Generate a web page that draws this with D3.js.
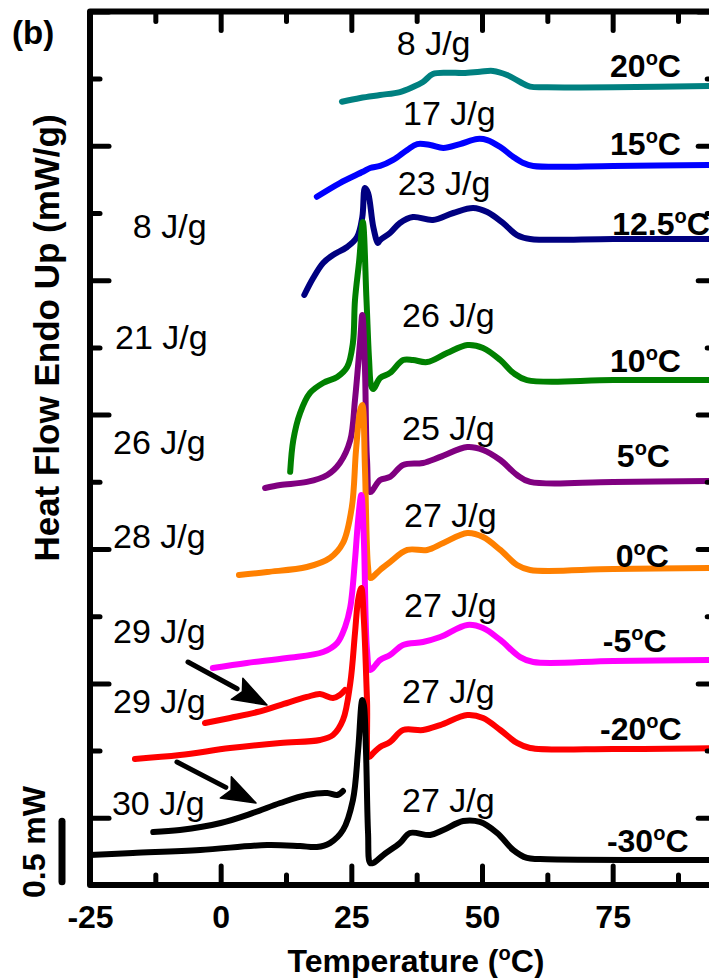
<!DOCTYPE html>
<html>
<head>
<meta charset="utf-8">
<script src="https://cdn.jsdelivr.net/npm/d3@7"></script>
<style>
  html, body { margin: 0; padding: 0; background: #fff; overflow: hidden; }
  svg { display: block; }
</style>
</head>
<body>
<svg id="chart" width="709" height="978"></svg>
<script>
// DSC heating scans after isothermal holds, stacked with vertical offsets.
// Each curve: [temperature (°C), heat flow (mW/g, offset)].
const curve20C = [[23.2,5.328],[26.7,5.356],[30.5,5.378],[34.3,5.40],[36.8,5.438],[38.7,5.475],[40.6,5.534],[43.3,5.544],[46.4,5.542],[49.6,5.551],[52.1,5.557],[54.8,5.527],[57.3,5.475],[59.2,5.440],[62.5,5.435],[75.1,5.435],[95,5.445]];
const curve15C = [[18.4,4.621],[22.8,4.723],[27.2,4.807],[28.6,4.835],[30.5,4.850],[33.0,4.895],[35.7,4.969],[37.6,5.013],[40.1,5.006],[42.6,4.984],[45.8,5.013],[49.1,5.051],[51.0,5.043],[53.5,4.991],[56.0,4.917],[57.9,4.872],[59.8,4.850],[75.1,4.850],[95,4.857]];
const curve12p5C = [[16.0,3.890],[17.7,4.016],[19.6,4.128],[21.5,4.188],[24.2,4.247],[26.1,4.321],[27.1,4.470],[27.6,4.686],[28.2,4.649],[29.2,4.396],[30.1,4.277],[30.5,4.299],[32.4,4.351],[34.3,4.426],[36.8,4.470],[40.6,4.448],[44.5,4.500],[48.3,4.537],[51.0,4.507],[54.0,4.426],[56.7,4.336],[59.2,4.307],[75.1,4.307],[95,4.307]];
const curve10C = [[13.3,2.575],[13.9,2.811],[15.2,3.012],[17.1,3.161],[19.6,3.235],[22.3,3.280],[24.2,3.354],[25.3,3.533],[25.7,3.853],[26.5,4.144],[27.2,4.433],[27.9,3.853],[28.4,3.406],[28.8,3.213],[29.2,3.190],[30.5,3.272],[32.4,3.310],[34.9,3.406],[36.8,3.406],[39.5,3.391],[43.3,3.458],[47.2,3.518],[50.2,3.496],[53.5,3.406],[56.0,3.310],[58.6,3.257],[75.1,3.257],[95,3.257]];
const curve5C = [[8.5,2.454],[11.4,2.476],[16.5,2.499],[20.4,2.551],[22.8,2.640],[24.8,2.811],[25.7,3.109],[26.7,3.555],[27.1,3.741],[27.6,3.354],[28.0,2.662],[28.6,2.424],[30.5,2.513],[32.4,2.536],[34.9,2.625],[38.7,2.640],[42.0,2.685],[47.2,2.759],[50.2,2.737],[53.5,2.662],[56.7,2.551],[59.2,2.499],[75.1,2.499],[95,2.506]];
const curve0C = [[3.5,1.807],[8.9,1.829],[16.5,1.866],[20.9,1.933],[23.4,2.045],[25.1,2.313],[25.9,2.737],[26.7,3.034],[27.1,3.071],[27.6,2.610],[28.2,1.866],[28.6,1.784],[30.5,1.844],[32.4,1.903],[35.7,1.993],[39.5,1.993],[42.6,2.045],[47.2,2.119],[50.2,2.089],[53.5,1.993],[56.7,1.881],[59.2,1.844],[75.1,1.851],[95,1.859]];
const curveM5C = [[-1.5,1.115],[5.0,1.152],[12.7,1.189],[19.6,1.234],[22.3,1.301],[23.8,1.420],[24.8,1.568],[25.7,1.918],[26.3,2.216],[26.9,2.402],[27.4,2.067],[28.0,1.249],[28.6,1.100],[30.5,1.174],[32.4,1.211],[34.9,1.286],[38.7,1.308],[42.0,1.345],[47.2,1.435],[50.2,1.412],[53.5,1.323],[57.3,1.196],[59.8,1.159],[75.1,1.167],[95,1.174]];
const curveM20C = [[-16.4,0.438],[-7.8,0.467],[1.8,0.519],[11.4,0.557],[19.0,0.579],[21.5,0.616],[23.4,0.728],[24.8,1.003],[25.7,1.375],[26.3,1.621],[26.9,1.710],[27.4,1.472],[28.0,0.876],[28.4,0.452],[29.2,0.482],[30.5,0.527],[32.4,0.564],[34.9,0.653],[38.7,0.653],[42.0,0.690],[47.2,0.765],[50.2,0.743],[53.5,0.653],[56.7,0.557],[59.2,0.519],[75.1,0.512],[95,0.519]];
const curveM20CPre = [[-3.0,0.705],[1.8,0.743],[7.0,0.787],[11.4,0.839],[16.5,0.899],[19.0,0.921],[21.5,0.891],[22.8,0.914],[23.8,0.951]];
const curveM30C = [[-25,-0.277],[-16.8,-0.262],[-3.9,-0.240],[8.9,-0.202],[15.2,-0.210],[18.4,-0.217],[20.9,-0.188],[23.4,-0.091],[25.3,0.132],[26.3,0.504],[27.1,0.876],[27.4,0.839],[27.8,0.504],[28.2,-0.113],[28.6,-0.336],[29.2,-0.336],[31.1,-0.277],[34.3,-0.188],[36.2,-0.113],[40.1,-0.128],[42.6,-0.091],[46.4,-0.024],[49.6,-0.031],[52.9,-0.113],[56.0,-0.240],[58.6,-0.299],[61.1,-0.307],[95,-0.314]];
const curveM30CPre = [[-12.9,-0.106],[-7.8,-0.091],[0,-0.039],[6.2,0.036],[11.4,0.110],[16.5,0.170],[20.4,0.185],[22.3,0.170],[23.4,0.199]];

// Hold temperatures and melting enthalpies
const holdTemps = ["20", "15", "12.5", "10", "5", "0", "-5", "-20", "-30"];
const enthalpyLabels = ["8 J/g", "17 J/g", "23 J/g", "8 J/g", "21 J/g", "26 J/g", "26 J/g", "25 J/g", "28 J/g", "27 J/g", "29 J/g", "27 J/g", "29 J/g", "27 J/g", "30 J/g", "27 J/g"];

// Axis ticks
const xMajorTicks = [-25, 0, 25, 50, 75];
const xTickLabels = ["-25", "0", "25", "50", "75"];
const xMinorTicks = [-12.5, 12.5, 37.5, 62.5, 87.5];
const yMajorTicks = [0, 1, 2, 3, 4, 5, 6];
const yMinorTicks = [0.5, 1.5, 2.5, 3.5, 4.5, 5.5];

// ---- layout ----
const svg = d3.select("#chart");
const x = d3.scaleLinear().domain([-25, 95]).range([90, 717.2]);
const y = d3.scaleLinear().domain([-0.5, 6]).range([885, 11.4]);
const FONT = "'Liberation Sans', Arial, Helvetica, sans-serif";

const seriesList = [
  { data: curve20C, color: "#008080" },
  { data: curve15C, color: "#0000ff" },
  { data: curve12p5C, color: "#000080" },
  { data: curve10C, color: "#008000" },
  { data: curve5C, color: "#800080" },
  { data: curve0C, color: "#ff8000" },
  { data: curveM5C, color: "#ff00ff" },
  { data: curveM20CPre, color: "#ff0000" },
  { data: curveM20C, color: "#ff0000" },
  { data: curveM30CPre, color: "#000000" },
  { data: curveM30C, color: "#000000" }
];

// label anchors in data coordinates (start of text, baseline)
const holdLabelPos = [[74.5,5.512],[74.5,4.932],[74.9,4.336],[74.5,3.317],[75.8,2.610],[75.6,1.866],[73.1,1.234],[72.6,0.579],[73.9,-0.254]];
const enthalpyPos = [[33.7,5.675],[34.9,5.155],[33.9,4.634],[-16.8,4.314],[-20.2,3.488],[-20.6,2.707],[34.7,3.652],[34.7,2.811],[-20.6,2.007],[35.1,2.164],[-20.6,1.301],[35.1,1.494],[-20.6,0.780],[34.7,0.854],[-20.8,0.021],[34.7,0.043]];
const arrows = [
  { from: [-6.25, 1.159], to: [8.86, 0.839] },
  { from: [-8.36, 0.415], to: [6.76, 0.110] }
];

// ---- curves ----
const line = d3.line()
  .x(d => x(d[0]))
  .y(d => y(d[1]))
  .curve(d3.curveCatmullRom.alpha(0.5));

svg.append("clipPath").attr("id", "plotClip")
  .append("rect")
  .attr("x", x(-25)).attr("y", y(6))
  .attr("width", x(95) - x(-25)).attr("height", y(-0.5) - y(6));

svg.append("g").attr("clip-path", "url(#plotClip)")
  .selectAll("path")
  .data(seriesList)
  .join("path")
  .attr("d", d => line(d.data))
  .attr("fill", "none")
  .attr("stroke", d => d.color)
  .attr("stroke-width", 6)
  .attr("stroke-linejoin", "round")
  .attr("stroke-linecap", "round");

// ---- frame and ticks ----
function styleTicks(g) {
  g.select(".domain").remove();
  g.selectAll(".tick line")
    .attr("stroke", "#000")
    .attr("stroke-width", 5)
    .attr("stroke-linecap", "round");
}

const MAJ = 19, MIN = 10;

svg.append("g").attr("transform", `translate(0,${y(-0.5)})`)
  .call(d3.axisBottom(x).tickValues(xMajorTicks).tickSize(-MAJ)
    .tickFormat((d, i) => xTickLabels[i]))
  .call(styleTicks)
  .call(g => g.selectAll(".tick text")
    .attr("y", 43).attr("dy", 0)
    .attr("fill", "#000")
    .style("font-family", FONT).style("font-size", "32px").style("font-weight", "bold"));

svg.append("g").attr("transform", `translate(0,${y(-0.5)})`)
  .call(d3.axisBottom(x).tickValues(xMinorTicks).tickSize(-MIN).tickFormat(""))
  .call(styleTicks);

svg.append("g").attr("transform", `translate(0,${y(6)})`)
  .call(d3.axisTop(x).tickValues(xMajorTicks).tickSize(-MAJ).tickFormat(""))
  .call(styleTicks);
svg.append("g").attr("transform", `translate(0,${y(6)})`)
  .call(d3.axisTop(x).tickValues(xMinorTicks).tickSize(-MIN).tickFormat(""))
  .call(styleTicks);

svg.append("g").attr("transform", `translate(${x(-25)},0)`)
  .call(d3.axisLeft(y).tickValues(yMajorTicks).tickSize(-MAJ).tickFormat(""))
  .call(styleTicks);
svg.append("g").attr("transform", `translate(${x(-25)},0)`)
  .call(d3.axisLeft(y).tickValues(yMinorTicks).tickSize(-MIN).tickFormat(""))
  .call(styleTicks);

svg.append("g").attr("transform", `translate(${x(95)},0)`)
  .call(d3.axisRight(y).tickValues(yMajorTicks).tickSize(-MAJ).tickFormat(""))
  .call(styleTicks);
svg.append("g").attr("transform", `translate(${x(95)},0)`)
  .call(d3.axisRight(y).tickValues(yMinorTicks).tickSize(-MIN).tickFormat(""))
  .call(styleTicks);

svg.append("rect")
  .attr("x", x(-25)).attr("y", y(6))
  .attr("width", x(95) - x(-25)).attr("height", y(-0.5) - y(6))
  .attr("fill", "none").attr("stroke", "#000")
  .attr("stroke-width", 6).attr("stroke-linejoin", "round");

// ---- arrows ----
arrows.forEach(a => {
  const x1 = x(a.from[0]), y1 = y(a.from[1]);
  const x2 = x(a.to[0]), y2 = y(a.to[1]);
  const ang = Math.atan2(y2 - y1, x2 - x1);
  const headLen = 34, headHalf = 12;
  const bx = x2 - headLen * Math.cos(ang), by = y2 - headLen * Math.sin(ang);
  svg.append("line")
    .attr("x1", x1).attr("y1", y1).attr("x2", bx).attr("y2", by)
    .attr("stroke", "#000").attr("stroke-width", 5).attr("stroke-linecap", "round");
  const px = -Math.sin(ang) * headHalf, py = Math.cos(ang) * headHalf;
  svg.append("path")
    .attr("d", `M${x2},${y2}L${bx + px},${by + py}L${bx + 6 * Math.cos(ang)},${by + 6 * Math.sin(ang)}L${bx - px},${by - py}Z`)
    .attr("fill", "#000").attr("stroke", "#000").attr("stroke-width", 1.5).attr("stroke-linejoin", "round");
});

// ---- hold temperature labels ----
const tl = svg.append("g")
  .style("font-family", FONT).style("font-weight", "bold").style("font-size", "32px");
holdTemps.forEach((t, i) => {
  const txt = tl.append("text")
    .attr("x", x(holdLabelPos[i][0])).attr("y", y(holdLabelPos[i][1]))
    .attr("fill", "#000");
  txt.append("tspan").text(t);
  txt.append("tspan").attr("dy", -12).style("font-size", "20px").text("o");
  txt.append("tspan").attr("dy", 12).text("C");
});

// ---- enthalpy labels ----
svg.append("g")
  .style("font-family", FONT).style("font-size", "34px")
  .selectAll("text")
  .data(enthalpyLabels)
  .join("text")
  .attr("x", (d, i) => x(enthalpyPos[i][0]))
  .attr("y", (d, i) => y(enthalpyPos[i][1]))
  .attr("fill", "#000")
  .text(d => d);

// ---- axis titles ----
const xt = svg.append("text")
  .attr("x", 416).attr("y", 972)
  .attr("text-anchor", "middle")
  .style("font-family", FONT).style("font-size", "32px").style("font-weight", "bold");
xt.append("tspan").text("Temperature (");
xt.append("tspan").attr("dy", -12).style("font-size", "20px").text("o");
xt.append("tspan").attr("dy", 12).text("C)");

svg.append("text")
  .attr("transform", "translate(59,338) rotate(-90)")
  .attr("text-anchor", "middle")
  .style("font-family", FONT).style("font-size", "35px").style("font-weight", "bold")
  .text("Heat Flow Endo Up (mW/g)");

// panel letter
svg.append("text")
  .attr("x", 12).attr("y", 44)
  .style("font-family", FONT).style("font-size", "33px").style("font-weight", "bold")
  .text("(b)");

// ---- 0.5 mW scale bar ----
svg.append("line")
  .attr("x1", 62).attr("x2", 62)
  .attr("y1", y(-0.475)).attr("y2", y(-0.025))
  .attr("stroke", "#000").attr("stroke-width", 7).attr("stroke-linecap", "round");
svg.append("text")
  .attr("transform", "translate(45,898) rotate(-90)")
  .style("font-family", FONT).style("font-size", "32px").style("font-weight", "bold")
  .text("0.5 mW");
</script>
</body>
</html>
